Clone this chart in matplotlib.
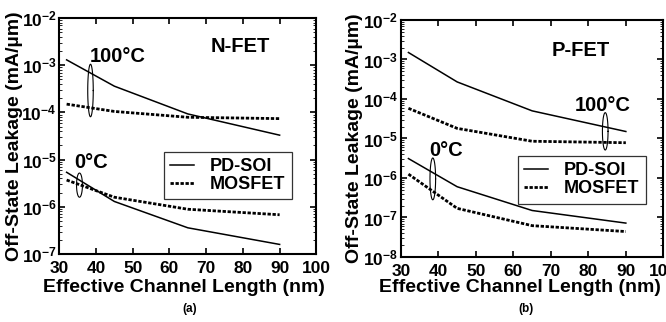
import numpy as np
import matplotlib.pyplot as plt
from matplotlib.lines import Line2D
from matplotlib.ticker import LogLocator, FuncFormatter, NullFormatter

plt.rcParams['font.family'] = ['Liberation Sans', 'DejaVu Sans']
plt.rcParams['font.weight'] = 'bold'
plt.rcParams['mathtext.fontset'] = 'custom'
plt.rcParams['mathtext.rm'] = 'Liberation Sans:bold'
plt.rcParams['mathtext.bf'] = 'Liberation Sans:bold'

lengths = [32, 45, 65, 90]

# N-FET
n_soi_100 = [1.3e-3, 3.6e-4, 9.3e-5, 3.3e-5]
n_mos_100 = [1.5e-4, 1.05e-4, 7.9e-5, 7.4e-5]
n_soi_0 = [5.4e-6, 1.3e-6, 3.6e-7, 1.6e-7]
n_mos_0 = [3.7e-6, 1.6e-6, 8.9e-7, 6.8e-7]

# P-FET
p_soi_100 = [1.5e-3, 2.7e-4, 5.0e-5, 1.5e-5]
p_mos_100 = [5.8e-5, 1.8e-5, 8.5e-6, 7.8e-6]
p_soi_0 = [3.1e-6, 6.0e-7, 1.5e-7, 7.2e-8]
p_mos_0 = [1.25e-6, 1.7e-7, 6.2e-8, 4.4e-8]

DASH = (0, (1.2, 0.6))


def ellipse(ax, cx, y_lo, y_hi, half_w):
    # ellipse drawn in x-linear / y-log space
    t = np.linspace(0, 2 * np.pi, 100)
    lc = (np.log10(y_lo) + np.log10(y_hi)) / 2
    lh = (np.log10(y_hi) - np.log10(y_lo)) / 2
    ax.plot(cx + half_w * np.cos(t), 10 ** (lc + lh * np.sin(t)), color='black', lw=0.8)


def panel(ax, soi100, mos100, soi0, mos0, ylim, title, tpos):
    for soi, mos in [(soi100, mos100), (soi0, mos0)]:
        ax.plot(lengths, soi, color='black', lw=1.1)
        ax.plot(lengths, mos, color='black', lw=2.0, linestyle=DASH)
    ax.set_yscale('log')
    ax.set_xlim(30, 100)
    ax.set_ylim(*ylim)
    ax.set_xticks(range(30, 101, 10))
    ax.yaxis.set_major_locator(LogLocator(base=10, numticks=20))
    ax.yaxis.set_minor_locator(LogLocator(base=10, subs=np.arange(2, 10), numticks=20))
    ax.yaxis.set_major_formatter(FuncFormatter(lambda v, p: r'$\mathbf{10^{%d}}$' % round(np.log10(v))))
    ax.yaxis.set_minor_formatter(NullFormatter())
    ax.tick_params(which='both', direction='in', top=True, right=True, labelsize=12.5)
    ax.tick_params(which='major', length=4, width=1.2)
    ax.tick_params(which='minor', length=2, width=0.6)
    ax.tick_params(axis='x', pad=5)
    ax.tick_params(axis='y', pad=2)
    for s in ax.spines.values():
        s.set_linewidth(1.5)
    for lbl in ax.get_xticklabels():
        lbl.set_fontweight('bold')
    ax.set_xlabel('Effective Channel Length (nm)', fontsize=14, fontweight='bold')
    ax.set_ylabel('Off-State Leakage (mA/\u00b5m)', fontsize=14, fontweight='bold')
    ax.text(tpos[0], tpos[1], title, fontsize=14.5, fontweight='bold', ha='center', va='center')
    handles = [Line2D([], [], color='black', lw=1.1),
               Line2D([], [], color='black', lw=2.0, linestyle=DASH)]
    return handles


def legend(ax, h, anchor):
    lg = ax.legend(h, ['PD-SOI', 'MOSFET'], loc='upper left', bbox_to_anchor=anchor,
                   borderaxespad=0, frameon=True, fancybox=False, edgecolor='black',
                   handlelength=1.3, handletextpad=0.9, borderpad=0.35, labelspacing=0.05,
                   prop={'weight': 'bold', 'size': 13})
    lg.get_frame().set_linewidth(0.9)


fig = plt.figure(figsize=(6.66, 3.22), dpi=100)
ax1 = fig.add_axes([0.089, 0.211, 0.386, 0.733])
ax2 = fig.add_axes([0.602, 0.202, 0.394, 0.736])

h = panel(ax1, n_soi_100, n_mos_100, n_soi_0, n_mos_0, (1e-7, 1e-2), 'N-FET', (79.3, 2.5e-3))
ax1.text(38.3, 1.5e-3, '100\u00b0C', fontsize=14.5, fontweight='bold', ha='left', va='center')
ax1.text(34.2, 8.7e-6, '0\u00b0C', fontsize=14.5, fontweight='bold', ha='left', va='center')
ellipse(ax1, 38.5, 8.1e-5, 1.05e-3, 0.75)
ellipse(ax1, 35.5, 1.6e-6, 5.2e-6, 0.8)
legend(ax1, h, (0.408, 0.434))
ax1.xaxis.set_label_coords(0.486, -0.105)
ax1.yaxis.set_label_coords(-0.142, 0.5)
fig.text(0.285, 0.04, '(a)', fontsize=8.5, fontweight='bold', ha='center', va='center')

h = panel(ax2, p_soi_100, p_mos_100, p_soi_0, p_mos_0, (1e-8, 1e-2), 'P-FET', (78.1, 1.7e-3))
ax2.text(76.3, 7e-5, '100\u00b0C', fontsize=14.5, fontweight='bold', ha='left', va='center')
ax2.text(37.5, 5e-6, '0\u00b0C', fontsize=14.5, fontweight='bold', ha='left', va='center')
ellipse(ax2, 84.5, 5.1e-6, 4.5e-5, 0.75)
ellipse(ax2, 38.5, 2.8e-7, 3.2e-6, 0.75)
legend(ax2, h, (0.446, 0.426))
ax2.xaxis.set_label_coords(0.453, -0.095)
ax2.yaxis.set_label_coords(-0.145, 0.5)
fig.text(0.79, 0.04, '(b)', fontsize=8.5, fontweight='bold', ha='center', va='center')

fig.savefig('out.png', dpi=100)
